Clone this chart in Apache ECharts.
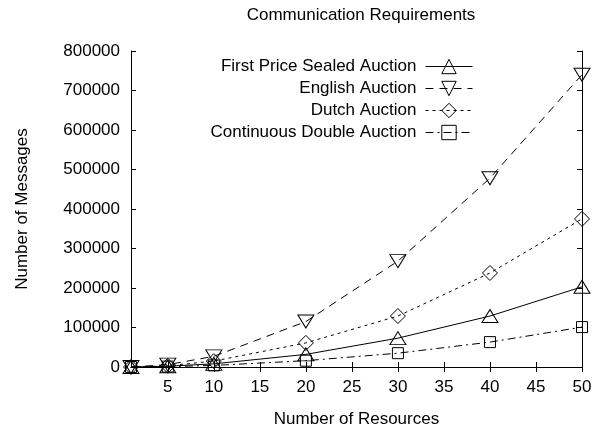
<!DOCTYPE html>
<html>
<head>
<meta charset="utf-8">
<script src="https://cdn.jsdelivr.net/npm/echarts@6/dist/echarts.min.js"></script>
<style>
  html, body { margin: 0; padding: 0; background: #fff; }
  #chart { width: 595px; height: 434px; }
</style>
</head>
<body>
<div id="chart"></div>
<script>
// number of resources (x) and tick labels
const resources = [1, 5, 10, 20, 30, 40, 50];
const xTicks = [5, 10, 15, 20, 25, 30, 35, 40, 45, 50];

// number of messages
const firstPrice = [0, 2000, 8000, 32000, 73000, 129000, 203000];
const english = [0, 6000, 27000, 115000, 268000, 478000, 740000];
const dutch = [0, 3000, 15000, 61000, 129000, 238000, 375000];
const continuousDouble = [0, 1000, 4000, 16000, 35000, 63000, 101000];

const FONT = 'Liberation Sans';
const FS = 17;

function pairs(vals) {
  return resources.map((x, i) => [x, vals[i]]);
}

const hollow = {
  color: 'transparent',
  borderColor: '#000',
  borderWidth: 1,
};

const chart = echarts.init(document.getElementById('chart'));

const axisLine = { show: true, lineStyle: { color: '#000', width: 1 } };

chart.setOption({
  animation: false,
  backgroundColor: '#fff',
  textStyle: { fontFamily: FONT, color: '#000' },
  title: {
    text: 'Communication Requirements',
    left: 356,
    textAlign: 'center',
    top: 2,
    textStyle: { fontFamily: FONT, fontSize: FS, fontWeight: 'normal', color: '#000' },
  },
  legend: {
    orient: 'vertical',
    align: 'right',
    right: 117,
    top: 53,
    itemWidth: 47,
    itemHeight: 18,
    itemGap: 5,
    selectedMode: false,
    lineStyle: { width: 1 },
    itemStyle: { borderWidth: 1 },
    textStyle: { fontFamily: FONT, fontSize: FS, color: '#000', padding: [0, 4, 0, 0] },
    data: ['First Price Sealed Auction', 'English Auction', 'Dutch Auction', 'Continuous Double Auction'],
  },
  grid: {
    left: 131,
    right: 13,
    top: 51,
    bottom: 67,
  },
  xAxis: [
    {
      type: 'value',
      min: 1,
      max: 50,
      name: 'Number of Resources',
      nameLocation: 'middle',
      nameGap: 44,
      nameTextStyle: { fontFamily: FONT, fontSize: FS, color: '#000' },
      axisLine,
      axisTick: { inside: true, length: 5, lineStyle: { color: '#000' }, customValues: xTicks },
      axisLabel: { fontFamily: FONT, fontSize: FS, color: '#000', margin: 12, customValues: xTicks },
      splitLine: { show: false },
    },
    {
      type: 'value',
      position: 'top',
      min: 1,
      max: 50,
      axisLine,
      axisTick: { inside: true, length: 5, lineStyle: { color: '#000' }, customValues: xTicks },
      axisLabel: { show: false },
      splitLine: { show: false },
    },
  ],
  yAxis: [
    {
      type: 'value',
      min: 0,
      max: 800000,
      interval: 100000,
      name: 'Number of Messages',
      nameLocation: 'middle',
      nameGap: 100,
      nameTextStyle: { fontFamily: FONT, fontSize: FS, color: '#000' },
      axisLine,
      axisTick: { inside: true, length: 5, lineStyle: { color: '#000' } },
      axisLabel: {
        fontFamily: FONT,
        fontSize: FS,
        color: '#000',
        margin: 11,
        formatter: (v) => String(v),
      },
      splitLine: { show: false },
    },
    {
      type: 'value',
      position: 'right',
      min: 0,
      max: 800000,
      interval: 100000,
      axisLine,
      axisTick: { inside: true, length: 5, lineStyle: { color: '#000' } },
      axisLabel: { show: false },
      splitLine: { show: false },
    },
  ],
  series: [
    {
      name: 'First Price Sealed Auction',
      type: 'line',
      data: pairs(firstPrice),
      symbol: 'triangle',
      symbolSize: [16, 13],
      lineStyle: { color: '#000', width: 1, type: 'solid' },
      itemStyle: hollow,
    },
    {
      name: 'English Auction',
      type: 'line',
      data: pairs(english),
      symbol: 'triangle',
      symbolRotate: 180,
      symbolSize: [16, 13],
      lineStyle: { color: '#000', width: 1, type: [8, 6] },
      itemStyle: hollow,
    },
    {
      name: 'Dutch Auction',
      type: 'line',
      data: pairs(dutch),
      symbol: 'diamond',
      symbolSize: [15, 15],
      lineStyle: { color: '#000', width: 1, type: [3, 4] },
      itemStyle: hollow,
    },
    {
      name: 'Continuous Double Auction',
      type: 'line',
      data: pairs(continuousDouble),
      symbol: 'rect',
      symbolSize: [11, 11],
      lineStyle: { color: '#000', width: 1, type: [8, 4, 2, 4] },
      itemStyle: hollow,
    },
  ],
});
</script>
</body>
</html>
